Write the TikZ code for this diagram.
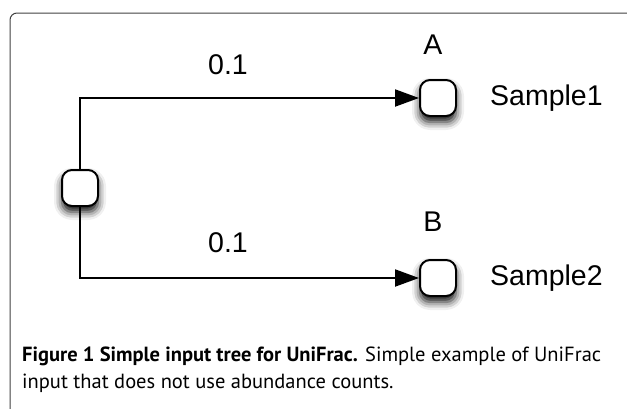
\documentclass[tikz,border=0pt]{standalone}
\usepackage{fontspec}
\setmainfont{Liberation Sans}
\newfontfamily\capfont{PT Sans}
\usetikzlibrary{arrows.meta,shadows.blur}

\tikzset{
	otu/.style={draw=black, fill=white, line width=2pt, rounded corners=10pt, minimum size=36pt, inner sep=0pt,
		blur shadow={shadow xshift=0pt, shadow yshift=-6pt, shadow blur radius=8pt, shadow opacity=95}},
	branch/.style={line width=2pt, -{Triangle[length=24pt,width=17pt]}},
	lbl/.style={font=\fontsize{28.5}{32}\selectfont, inner sep=0pt},
	captext/.style={font=\capfont\fontsize{20.5}{24}\selectfont, anchor=base west, inner sep=0pt}
}

\begin{document}
\begin{tikzpicture}[x=1pt, y=-1pt]
			%%%%% START %%%%%
			\useasboundingbox (0, 0) rectangle (627, 408);
			
			\draw[line width=1pt, color=black!75, rounded corners=7pt] (628, 13) -- (10, 13) -- (10, 409);
			
			\node[otu] (root) at (80, 188) {};
			\node[otu] (leafa) at (438, 98) {};
			\node[otu] (leafb) at (438, 278) {};
			
			\draw[branch] (root.north) |- (leafa.west);
			\draw[branch] (root.south) |- (leafb.west);
			
			\node[lbl] (lena) at (228, 65) {0.1};
			\node[lbl] (lenb) at (228, 243) {0.1};
			\node[lbl] (namea) at (433, 45) {A};
			\node[lbl] (nameb) at (433, 222) {B};
			\node[lbl, anchor=west] (samplea) at (490, 98) {Sample1};
			\node[lbl, anchor=west] (sampleb) at (490, 278) {Sample2};
			
			\node[captext] (capa) at (22, 361) {\textbf{Figure 1 Simple input tree for UniFrac.} Simple example of UniFrac};
			\node[captext] (capb) at (22, 388) {input that does not use abundance counts.};
			
			%%%%% END %%%%%
		\end{tikzpicture}
\end{document}
